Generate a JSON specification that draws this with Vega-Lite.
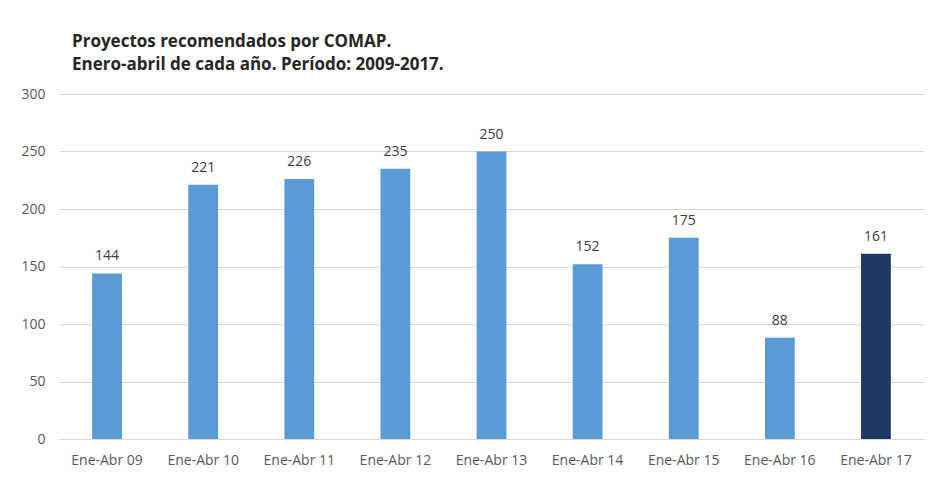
{
  "$schema": "https://vega.github.io/schema/vega-lite/v6.json",
  "autosize": "none",
  "width": 865,
  "height": 345,
  "padding": {"left": 59, "top": 94, "right": 5, "bottom": 38},
  "background": "white",
  "title": {
    "text": ["Proyectos recomendados por COMAP.", "Enero-abril de cada año. Período: 2009-2017."],
    "anchor": "start",
    "frame": "group",
    "dx": 13,
    "offset": 13,
    "font": "Open Sans",
    "fontSize": 17,
    "fontWeight": "bold",
    "color": "#262626",
    "lineHeight": 23
  },
  "data": {
    "values": [
      {"periodo": "Ene-Abr 09", "valor": 144, "tipo": "prev"},
      {"periodo": "Ene-Abr 10", "valor": 221, "tipo": "prev"},
      {"periodo": "Ene-Abr 11", "valor": 226, "tipo": "prev"},
      {"periodo": "Ene-Abr 12", "valor": 235, "tipo": "prev"},
      {"periodo": "Ene-Abr 13", "valor": 250, "tipo": "prev"},
      {"periodo": "Ene-Abr 14", "valor": 152, "tipo": "prev"},
      {"periodo": "Ene-Abr 15", "valor": 175, "tipo": "prev"},
      {"periodo": "Ene-Abr 16", "valor": 88, "tipo": "prev"},
      {"periodo": "Ene-Abr 17", "valor": 161, "tipo": "actual"}
    ]
  },
  "encoding": {
    "x": {
      "field": "periodo",
      "type": "nominal",
      "sort": null,
      "scale": {"paddingInner": 0.69, "paddingOuter": 0.345},
      "axis": {
        "title": null,
        "labelAngle": 0,
        "labelFont": "Open Sans",
        "labelFontSize": 14,
        "labelColor": "#595959",
        "labelPadding": 14,
        "ticks": false,
        "domainColor": "#d9d9d9",
        "grid": false
      }
    },
    "y": {
      "field": "valor",
      "type": "quantitative",
      "scale": {"domain": [0, 300]},
      "axis": {
        "title": null,
        "values": [0, 50, 100, 150, 200, 250, 300],
        "labelFont": "Open Sans",
        "labelFontSize": 14,
        "labelColor": "#595959",
        "labelPadding": 14,
        "ticks": false,
        "domain": false,
        "gridColor": "#d9d9d9"
      }
    }
  },
  "layer": [
    {
      "mark": {"type": "bar"},
      "encoding": {
        "color": {
          "field": "tipo",
          "type": "nominal",
          "scale": {"domain": ["prev", "actual"], "range": ["#5B9BD5", "#1F3864"]},
          "legend": null
        }
      }
    },
    {
      "mark": {"type": "text", "dy": -17, "font": "Open Sans", "fontSize": 14, "color": "#404040"},
      "encoding": {"text": {"field": "valor", "type": "quantitative"}}
    }
  ],
  "config": {"view": {"stroke": null}}
}
